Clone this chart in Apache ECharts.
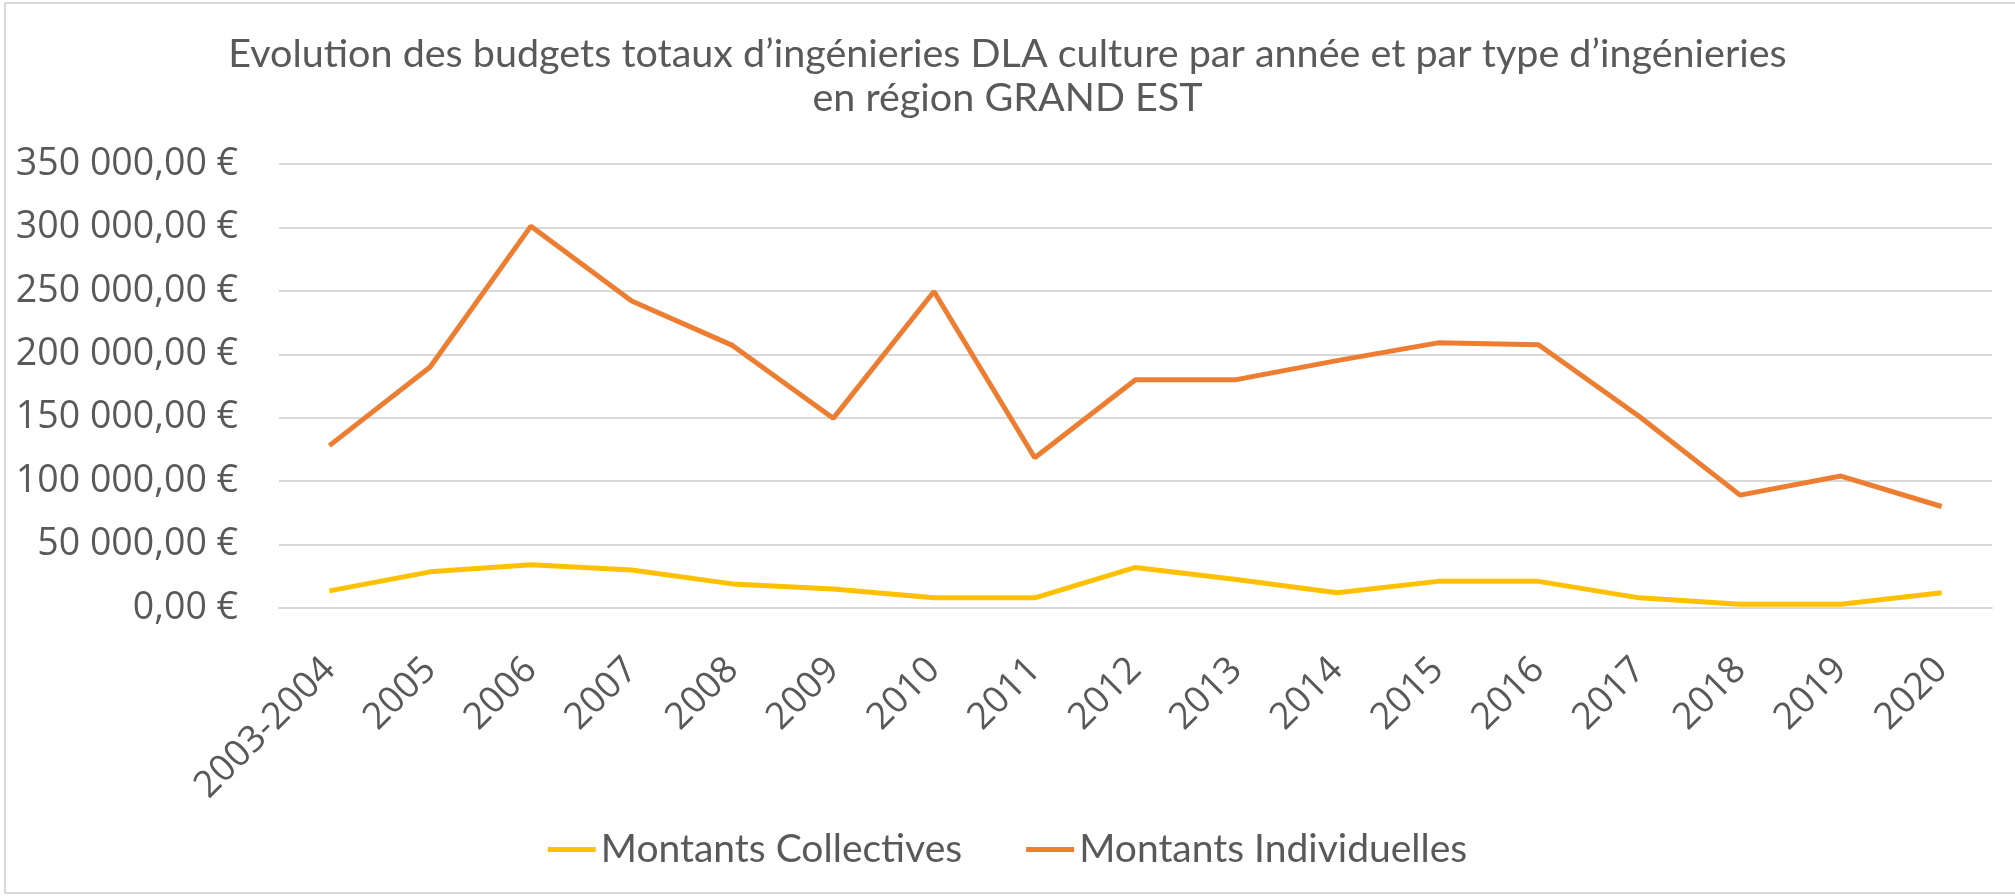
<!DOCTYPE html>
<html><head><meta charset="utf-8">
<script src="https://cdn.jsdelivr.net/npm/echarts@6/dist/echarts.min.js"></script>
<style>html,body{margin:0;padding:0;background:#fff}#c{width:2015px;height:896px}</style>
</head><body><div id="c"></div>
<script>
const categories = ['2003-2004','2005','2006','2007','2008','2009','2010','2011','2012','2013','2014','2015','2016','2017','2018','2019','2020'];
const collectives = [13500, 28500, 34000, 30000, 19000, 15000, 8000, 8000, 32000, 22500, 12000, 21000, 21000, 8000, 3000, 3000, 12000];
const individuelles = [128000, 190000, 301000, 242000, 207000, 149500, 249500, 118500, 180000, 180000, 195000, 209000, 207500, 151000, 89000, 104000, 80000];
const seriesNames = ['Montants Collectives', 'Montants Individuelles'];
const titleText = 'Evolution des budgets totaux d\u2019ingénieries DLA culture par année et par type d\u2019ingénieries\nen région GRAND EST';

const chart = echarts.init(document.getElementById('c'));
const txt = '#595959';
const fmt = v => String(v).replace(/\B(?=(\d{3})+(?!\d))/g, ' ') + ',00 €';
chart.setOption({
  animation: false,
  backgroundColor: '#fff',
  graphic: [{type:'rect', shape:{x:5, y:3, width:2030, height:890}, style:{fill:'none', stroke:'#D9D9D9', lineWidth:2}, silent:true}],
  title: {
    text: titleText, left: 'center', top: 27,
    textStyle: {color: txt, fontFamily: 'Lato', fontWeight: 'normal', fontSize: 39.5, lineHeight: 44}
  },
  legend: {
    bottom: 22, left: 'center', itemWidth: 48, itemHeight: 5, itemGap: 64,
    icon: 'rect',
    textStyle: {color: txt, fontFamily: 'Lato', fontSize: 39}
  },
  grid: {left: 279, right: 23, top: 164, bottom: 288, containLabel: false},
  xAxis: {
    type: 'category', data: categories, boundaryGap: true,
    axisLine: {show: true, lineStyle: {color: '#D9D9D9', width: 2}},
    axisTick: {show: false},
    axisLabel: {rotate: 45, margin: 56, color: txt, fontFamily: 'Open Sans', fontSize: 37, interval: 0}
  },
  yAxis: {
    type: 'value', min: 0, max: 350000, interval: 50000,
    axisLine: {show: false}, axisTick: {show: false},
    splitLine: {lineStyle: {color: '#D9D9D9', width: 2}},
    axisLabel: {formatter: fmt, margin: 41, color: txt, fontFamily: 'Open Sans', fontSize: 37.5}
  },
  series: [
    {name: seriesNames[0], type: 'line', data: collectives, symbol: 'none', lineStyle: {color: '#FFC000', width: 5}, itemStyle: {color: '#FFC000'}},
    {name: seriesNames[1], type: 'line', data: individuelles, symbol: 'none', lineStyle: {color: '#ED7D31', width: 5}, itemStyle: {color: '#ED7D31'}}
  ]
});
</script></body></html>
